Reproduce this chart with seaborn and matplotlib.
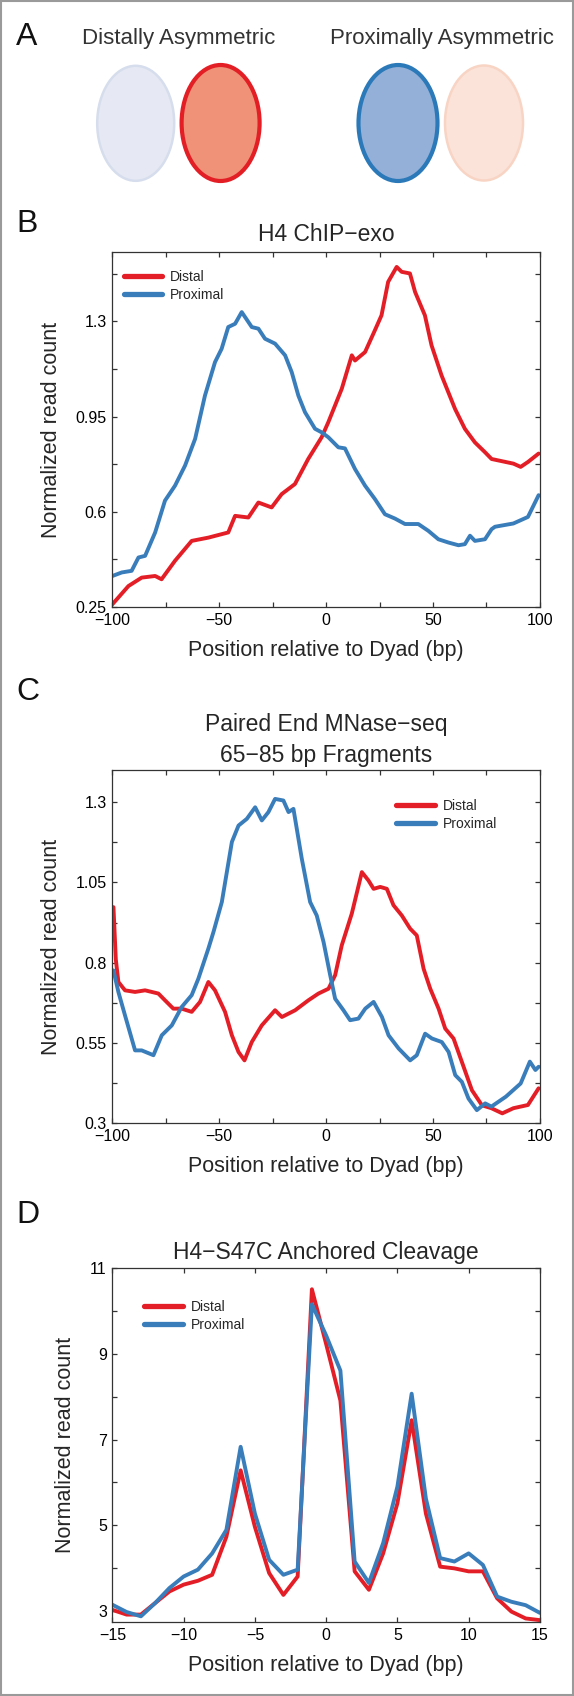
import matplotlib
matplotlib.use("Agg")
import matplotlib.pyplot as plt
import seaborn as sns
from matplotlib.patches import Ellipse, Rectangle

# ---- data ----
# B: H4 ChIP-exo
b_pos_distal = [-100, -92.5, -86.3, -80, -77, -70.7, -62.9, -55.1, -45.8, -42.6, -36.4, -31.7,
                -25.5, -20.8, -14.6, -8.4, -2.1, 1, 7.3, 12, 13.5, 18.2, 22.8, 25.9, 29, 33,
                35.3, 39.2, 41.6, 46.2, 49.3, 54, 60.3, 64.9, 69.6, 74.3, 77.4, 87.6, 91, 94.4, 99.4]
b_distal = [0.26, 0.327, 0.358, 0.364, 0.352, 0.42, 0.493, 0.505, 0.524, 0.585, 0.579, 0.634,
            0.616, 0.665, 0.702, 0.794, 0.874, 0.929, 1.052, 1.175, 1.156, 1.187, 1.267, 1.322,
            1.445, 1.50, 1.482, 1.476, 1.408, 1.322, 1.212, 1.101, 0.978, 0.905, 0.855, 0.819,
            0.794, 0.777, 0.765, 0.783, 0.814]
b_pos_proximal = [-100, -95.6, -91, -87.8, -84.7, -80, -75.4, -70.7, -66, -61.3, -56.7, -52,
                  -48.9, -45.8, -42.6, -39.5, -34.8, -31.7, -28.6, -23.9, -19.2, -16.1, -13,
                  -9.9, -5.2, -2.1, 1, 5.7, 8.8, 13.5, 18.2, 22.8, 27.5, 32.2, 36.9, 43.1, 47.8,
                  52.5, 57.2, 61.9, 64.9, 67.3, 69.6, 74.3, 77.4, 79, 87.6, 94.4, 99.4]
b_proximal = [0.364, 0.377, 0.383, 0.432, 0.438, 0.524, 0.641, 0.696, 0.77, 0.868, 1.027, 1.15,
              1.199, 1.279, 1.291, 1.334, 1.279, 1.273, 1.236, 1.218, 1.175, 1.113, 1.027,
              0.966, 0.905, 0.892, 0.874, 0.837, 0.833, 0.757, 0.696, 0.647, 0.591, 0.575,
              0.555, 0.555, 0.53, 0.499, 0.487, 0.477, 0.481, 0.512, 0.493, 0.499, 0.536,
              0.545, 0.557, 0.581, 0.661]

# C: Paired End MNase-seq, 65-85 bp fragments
c_pos_distal = [-99.5, -98.4, -97.2, -94.1, -89.4, -84.7, -81.6, -78.5, -75.4, -71.5, -67.6,
                -62.9, -59, -55.1, -52, -47.3, -44.1, -41, -38.2, -34.8, -30.1, -23.9, -20.7,
                -14.5, -8.3, -3.6, 1.1, 4.2, 7.3, 12, 16.7, 19.8, 22.2, 25.3, 28.4, 31.5, 35.4,
                39.3, 42.4, 45.6, 48.7, 52.6, 55.7, 59.6, 63.5, 68.2, 72.9, 77.3, 82.4, 87.6,
                94.4, 99.4]
c_distal = [0.973, 0.81, 0.74, 0.714, 0.709, 0.714, 0.709, 0.704, 0.683, 0.657, 0.657, 0.647,
            0.678, 0.74, 0.714, 0.647, 0.574, 0.522, 0.496, 0.553, 0.605, 0.652, 0.631, 0.652,
            0.683, 0.704, 0.719, 0.761, 0.854, 0.953, 1.082, 1.056, 1.03, 1.036, 1.03, 0.979,
            0.947, 0.906, 0.885, 0.781, 0.719, 0.657, 0.595, 0.564, 0.491, 0.403, 0.356,
            0.347, 0.331, 0.347, 0.357, 0.409]
c_pos_proximal = [-99.5, -97.2, -94.1, -89.4, -86.3, -80.8, -76.9, -72.2, -67.6, -62.9, -59.8,
                  -55.1, -52.7, -48.8, -44.1, -41, -37.1, -33.2, -30.1, -27, -23.9, -20, -17.6,
                  -15.3, -11.4, -7.5, -4.4, -1.2, 1.9, 4.2, 8.1, 11.2, 15.1, 18.3, 22.2, 26.1,
                  29.2, 33.9, 39.3, 42.4, 46.3, 49.5, 54.1, 57.3, 60.4, 63.5, 66.6, 70.5, 74.4,
                  77.3, 84.1, 91, 95.3, 97.9, 99.4]
c_proximal = [0.776, 0.709, 0.636, 0.527, 0.527, 0.512, 0.574, 0.605, 0.662, 0.699, 0.75,
              0.844, 0.896, 0.989, 1.176, 1.227, 1.248, 1.284, 1.243, 1.269, 1.31, 1.305, 1.269,
              1.279, 1.124, 0.989, 0.947, 0.864, 0.761, 0.688, 0.652, 0.621, 0.626, 0.657,
              0.678, 0.631, 0.574, 0.533, 0.496, 0.512, 0.579, 0.564, 0.553, 0.522, 0.45,
              0.429, 0.377, 0.341, 0.362, 0.352, 0.383, 0.424, 0.492, 0.466, 0.476]

# D: H4-S47C anchored cleavage
d_pos = list(range(-15, 16))
d_distal = [3.02, 2.91, 2.91, 3.18, 3.45, 3.61, 3.70, 3.84, 4.73, 6.28, 4.96, 3.88, 3.37, 3.80,
            10.51, 9.23, 7.91, 3.92, 3.49, 4.34, 5.51, 7.45, 5.27, 4.03, 3.99, 3.92, 3.92,
            3.29, 2.98, 2.82, 2.78]
d_proximal = [3.14, 2.97, 2.87, 3.18, 3.53, 3.80, 3.96, 4.34, 4.89, 6.83, 5.27, 4.19, 3.84,
              3.96, 10.16, 9.43, 8.61, 4.15, 3.65, 4.58, 5.90, 8.07, 5.62, 4.23, 4.15, 4.34,
              4.07, 3.33, 3.21, 3.13, 2.95]

RED = "#e41e26"
BLUE = "#3a7dbb"

sns.set_style("ticks")
plt.rcParams['font.family'] = ['Liberation Sans', 'DejaVu Sans']
plt.rcParams.update({
    "xtick.direction": "in", "ytick.direction": "in",
    "xtick.top": True, "ytick.right": True,
    "xtick.major.size": 3.5, "ytick.major.size": 3.5,
    "xtick.color": "#333333", "ytick.color": "#333333",
    "xtick.labelcolor": "black", "ytick.labelcolor": "black",
    "axes.edgecolor": "#333333", "axes.linewidth": 0.9,
})

W, H = 574, 1696
fig = plt.figure(figsize=(W / 100, H / 100), dpi=100)
fig.patch.set_facecolor("white")


def rect(left, top, right, bottom):
    return [left / W, 1 - bottom / H, (right - left) / W, (bottom - top) / H]


def fy(py):
    return 1 - py / H


# ---- panel A: cartoon ----
axa = fig.add_axes([0, 1 - 200 / H, 1, 200 / H])
axa.set_xlim(0, W)
axa.set_ylim(200, 0)
axa.axis("off")
ellipses = [
    (135.7, 123.3, 77, 115, "#e6e9f3", "#d6ddec", 1.8),
    (220.6, 123.0, 78, 116, "#ef9278", "#e31e24", 3.0),
    (398.0, 123.0, 79, 116, "#95b0d8", "#2b79b8", 3.0),
    (484.0, 123.0, 78, 115, "#fbe3d9", "#f8d4c4", 1.8),
]
for cx, cy, w, h, fc, ec, lw in ellipses:
    axa.add_patch(Ellipse((cx, cy), w, h, facecolor=fc, edgecolor=ec, linewidth=lw))
fig.text(178.7 / W, fy(44.3), "Distally Asymmetric", ha="center", va="baseline",
         fontsize=16, color="#333333")
fig.text(442 / W, fy(44.3), "Proximally Asymmetric", ha="center", va="baseline",
         fontsize=16, color="#333333")

for letter, base in [("A", 45), ("B", 232), ("C", 700), ("D", 1223)]:
    fig.text(16 / W, fy(base), letter, ha="left", va="baseline", fontsize=23, color="#111111")


def style_axes(ax, title, pad, legend_anchor):
    ax.set_xlabel("Position relative to Dyad (bp)", fontsize=15.5, labelpad=9)
    ax.set_ylabel("Normalized read count", fontsize=15.5, labelpad=10)
    ax.set_title(title, fontsize=16.5, pad=pad, linespacing=1.4)
    ax.tick_params(labelsize=11.5, pad=4, width=0.9)
    leg = ax.legend(loc="upper left", bbox_to_anchor=legend_anchor, frameon=False,
                    fontsize=10, handlelength=2.8, handletextpad=0.55, labelspacing=0.3,
                    borderpad=0, borderaxespad=0)
    for ln in leg.get_lines():
        ln.set_linewidth(3.8)
        ln.set_solid_capstyle("round")


# ---- panel B ----
axb = fig.add_axes(rect(112.4, 252.5, 539.9, 607))
sns.lineplot(x=b_pos_distal, y=b_distal, color=RED, linewidth=2.8, label="Distal", ax=axb)
sns.lineplot(x=b_pos_proximal, y=b_proximal, color=BLUE, linewidth=2.8, label="Proximal", ax=axb)
axb.set_xlim(-100, 100)
axb.set_ylim(0.25, 1.553)
axb.set_xticks([-100, -75, -50, -25, 0, 25, 50, 75, 100])
axb.set_xticklabels(["\u2212100", "", "\u221250", "", "0", "", "50", "", "100"])
axb.set_yticks([0.25, 0.425, 0.6, 0.775, 0.95, 1.125, 1.3, 1.475])
axb.set_yticklabels(["0.25", "", "0.6", "", "0.95", "", "1.3", ""])
style_axes(axb, "H4 ChIP\u2212exo", 8, (0.026, 0.952))

# ---- panel C ----
axc = fig.add_axes(rect(112.4, 770, 539.9, 1123.3))
sns.lineplot(x=c_pos_distal, y=c_distal, color=RED, linewidth=2.8, label="Distal", ax=axc)
sns.lineplot(x=c_pos_proximal, y=c_proximal, color=BLUE, linewidth=2.8, label="Proximal", ax=axc)
axc.set_xlim(-100, 100)
axc.set_ylim(0.3, 1.40)
axc.set_xticks([-100, -75, -50, -25, 0, 25, 50, 75, 100])
axc.set_xticklabels(["\u2212100", "", "\u221250", "", "0", "", "50", "", "100"])
axc.set_yticks([0.3, 0.425, 0.55, 0.675, 0.8, 0.925, 1.05, 1.175, 1.3])
axc.set_yticklabels(["0.3", "", "0.55", "", "0.8", "", "1.05", "", "1.3"])
style_axes(axc, "Paired End MNase\u2212seq\n65\u221285 bp Fragments", 6, (0.664, 0.918))

# ---- panel D ----
axd = fig.add_axes(rect(112.4, 1268.3, 539.9, 1622.3))
sns.lineplot(x=d_pos, y=d_distal, color=RED, linewidth=2.8, label="Distal", ax=axd)
sns.lineplot(x=d_pos, y=d_proximal, color=BLUE, linewidth=2.8, label="Proximal", ax=axd)
axd.set_xlim(-15, 15)
axd.set_ylim(2.73, 11)
axd.set_xticks([-15, -10, -5, 0, 5, 10, 15])
axd.set_xticklabels(["\u221215", "\u221210", "\u22125", "0", "5", "10", "15"])
axd.set_yticks(list(range(3, 12)))
axd.set_yticklabels([str(v) if v % 2 else "" for v in range(3, 12)])
style_axes(axd, "H4\u2212S47C Anchored Cleavage", 7, (0.0745, 0.911))

# grey frame around the whole figure
fig.patches.append(Rectangle((0.001, 0.0005), 0.998, 0.999, transform=fig.transFigure,
                             fill=False, edgecolor="#9a9a9a", linewidth=1.5))

fig.savefig("out.png", dpi=100)
